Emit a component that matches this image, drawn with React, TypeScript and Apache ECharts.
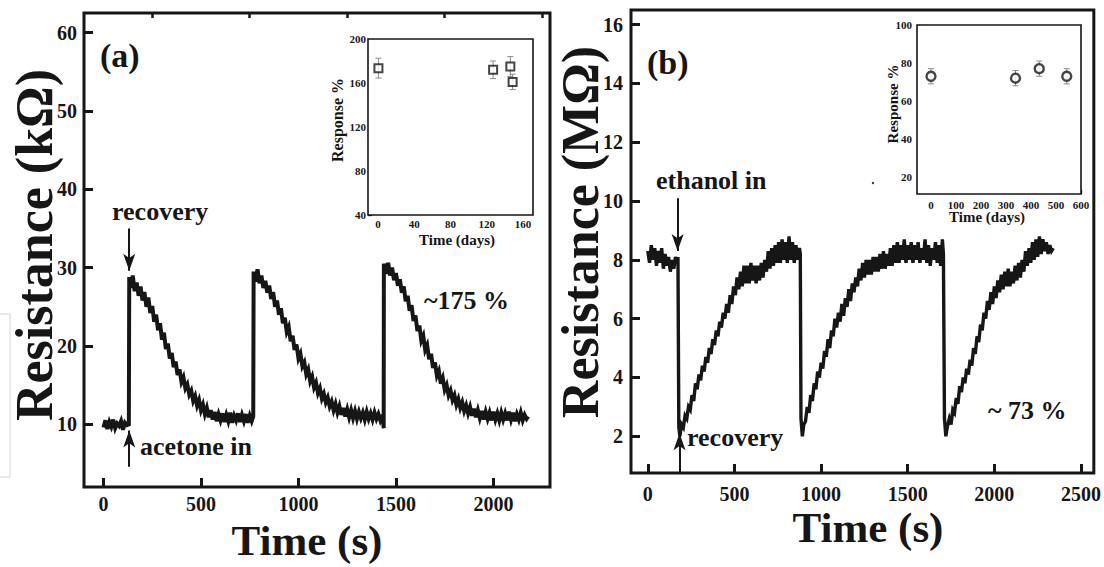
import React, { useEffect, useRef } from "react";
import * as echarts from "echarts";

// ---------- data ----------
const traceA: [number, number][] = [
  [0, 9.6], [10, 10.5], [20, 9.4], [30, 10.3], [40, 9.7], [50, 10.6], [60, 9.5], [70, 10.1], [80, 9.8], [90, 10.4], [100, 9.3], [110, 10.2], [120, 9.9], [130, 10.0],
  [132, 28.8], [140, 27.4], [150, 29.0], [160, 27.0], [170, 28.1], [180, 26.4], [190, 27.6], [200, 25.8], [210, 26.9], [220, 25.0], [230, 26.2], [240, 24.2], [250, 25.1], [260, 23.1], [270, 24.0], [280, 22.0], [290, 22.9], [300, 20.8], [310, 21.7], [320, 19.6], [330, 20.3], [340, 18.4], [350, 19.1], [360, 17.3], [370, 18.0], [380, 16.3], [390, 17.0], [400, 15.4], [410, 16.0], [420, 14.6], [430, 15.1], [440, 13.8], [450, 14.3], [460, 13.0], [470, 13.6], [480, 12.4], [490, 13.1], [500, 11.8], [510, 12.5], [520, 11.3], [530, 12.1], [540, 10.9], [550, 11.8], [560, 10.6], [570, 11.6], [580, 10.4], [590, 11.3], [600, 10.5], [610, 11.4], [620, 10.3], [630, 11.2], [640, 10.4], [650, 11.5], [660, 10.2], [670, 11.1], [680, 10.5], [690, 11.4], [700, 10.3], [710, 11.2], [720, 10.4], [730, 11.3], [740, 10.2], [750, 11.1], [760, 10.4], [768, 11.0],
  [770, 29.5], [780, 28.2], [790, 29.8], [800, 28.0], [810, 29.0], [820, 27.4], [830, 28.3], [840, 26.8], [850, 27.7], [860, 26.0], [870, 26.9], [880, 25.0], [890, 25.8], [900, 24.0], [910, 24.8], [920, 22.9], [930, 23.6], [940, 21.8], [950, 22.4], [960, 20.6], [970, 21.3], [980, 19.5], [990, 20.2], [1000, 18.4], [1010, 19.0], [1020, 17.4], [1030, 17.9], [1040, 16.4], [1050, 17.0], [1060, 15.5], [1070, 16.1], [1080, 14.7], [1090, 15.3], [1100, 14.0], [1110, 14.6], [1120, 13.3], [1130, 13.9], [1140, 12.8], [1150, 13.4], [1160, 12.3], [1170, 12.9], [1180, 11.8], [1190, 12.6], [1200, 11.5], [1210, 12.3], [1220, 11.2], [1230, 12.1], [1240, 11.0], [1250, 11.9], [1260, 10.9], [1270, 11.8], [1280, 10.8], [1290, 11.7], [1300, 10.7], [1310, 11.6], [1320, 10.8], [1330, 11.5], [1340, 10.6], [1350, 11.6], [1360, 10.7], [1370, 11.4], [1380, 10.6], [1390, 11.5], [1400, 10.7], [1410, 11.3], [1420, 10.5], [1432, 11.2],
  [1437, 9.5], [1438, 30.5], [1450, 29.2], [1460, 30.6], [1470, 29.0], [1480, 30.0], [1490, 28.4], [1500, 29.3], [1510, 27.7], [1520, 28.5], [1530, 26.8], [1540, 27.6], [1550, 25.7], [1560, 26.4], [1570, 24.5], [1580, 25.2], [1590, 23.2], [1600, 23.9], [1610, 21.9], [1620, 22.6], [1630, 20.7], [1640, 21.3], [1650, 19.5], [1660, 20.1], [1670, 18.3], [1680, 19.0], [1690, 17.2], [1700, 17.9], [1710, 16.2], [1720, 16.8], [1730, 15.2], [1740, 15.9], [1750, 14.4], [1760, 15.0], [1770, 13.7], [1780, 14.3], [1790, 13.1], [1800, 13.7], [1810, 12.5], [1820, 13.2], [1830, 12.1], [1840, 12.8], [1850, 11.7], [1860, 12.4], [1870, 11.4], [1880, 12.2], [1890, 11.1], [1900, 12.0], [1910, 10.9], [1920, 11.8], [1930, 10.8], [1940, 11.7], [1950, 10.6], [1960, 11.6], [1970, 10.7], [1980, 11.5], [1990, 10.5], [2000, 11.6], [2010, 10.6], [2020, 11.4], [2030, 10.5], [2040, 11.5], [2050, 10.6], [2060, 11.4], [2070, 10.5], [2080, 11.6], [2090, 10.6], [2100, 11.5], [2110, 10.4], [2120, 11.3], [2130, 10.6], [2140, 11.5], [2150, 10.5], [2160, 11.2], [2170, 10.7], [2178, 11.0],
];

const traceB: [number, number][] = [
  [0, 8.3], [10, 7.9], [20, 8.5], [30, 8.0], [40, 8.4], [50, 7.8], [60, 8.3], [70, 7.9], [80, 8.4], [90, 7.7], [100, 8.2], [110, 7.8], [120, 8.1], [130, 7.6], [140, 8.0], [150, 7.7], [160, 8.1], [170, 7.9], [174, 8.1],
  [179, 2.3], [185, 2.0], [195, 2.4], [205, 2.3], [215, 2.7], [225, 2.6], [235, 3.0], [245, 2.9], [255, 3.4], [265, 3.2], [275, 3.8], [285, 3.6], [295, 4.1], [305, 3.9], [315, 4.4], [325, 4.2], [335, 4.7], [345, 4.5], [355, 5.0], [365, 4.8], [375, 5.3], [385, 5.1], [395, 5.6], [405, 5.4], [415, 5.9], [425, 5.7], [435, 6.2], [445, 6.0], [455, 6.5], [465, 6.2], [475, 6.8], [485, 6.5], [495, 7.1], [505, 6.8], [515, 7.4], [525, 7.0], [535, 7.6], [545, 7.1], [555, 7.8], [565, 7.2], [575, 7.8], [585, 7.2], [595, 7.9], [605, 7.3], [615, 7.8], [625, 7.2], [635, 7.8], [645, 7.3], [655, 7.9], [665, 7.4], [675, 8.0], [685, 7.6], [695, 8.3], [705, 7.7], [715, 8.4], [725, 7.8], [735, 8.5], [745, 7.9], [755, 8.6], [765, 7.9], [775, 8.7], [785, 8.0], [795, 8.6], [805, 7.9], [815, 8.8], [825, 8.0], [835, 8.6], [845, 7.9], [855, 8.5], [865, 8.0], [875, 8.4], [880, 8.2],
  [884, 2.6], [892, 2.0], [900, 2.4], [910, 2.5], [920, 3.0], [930, 2.8], [940, 3.4], [950, 3.2], [960, 3.8], [970, 3.6], [980, 4.2], [990, 4.0], [1000, 4.5], [1010, 4.3], [1020, 4.9], [1030, 4.7], [1040, 5.3], [1050, 5.0], [1060, 5.6], [1070, 5.4], [1080, 6.0], [1090, 5.7], [1100, 6.2], [1110, 5.9], [1120, 6.5], [1130, 6.1], [1140, 6.7], [1150, 6.4], [1160, 7.0], [1170, 6.6], [1180, 7.2], [1190, 6.9], [1200, 7.4], [1210, 7.1], [1220, 7.7], [1230, 7.3], [1240, 7.9], [1250, 7.4], [1260, 8.0], [1270, 7.5], [1280, 8.0], [1290, 7.5], [1300, 8.1], [1310, 7.6], [1320, 8.1], [1330, 7.6], [1340, 8.2], [1350, 7.7], [1360, 8.3], [1370, 7.7], [1380, 8.2], [1390, 7.8], [1400, 8.4], [1410, 7.8], [1420, 8.5], [1430, 7.9], [1440, 8.6], [1450, 7.9], [1460, 8.5], [1470, 8.0], [1480, 8.7], [1490, 7.9], [1500, 8.5], [1510, 8.0], [1520, 8.6], [1530, 7.9], [1540, 8.5], [1550, 8.0], [1560, 8.6], [1570, 7.9], [1580, 8.4], [1590, 8.0], [1600, 8.7], [1610, 7.9], [1620, 8.5], [1630, 7.8], [1640, 8.4], [1650, 8.0], [1660, 8.6], [1670, 7.9], [1680, 8.5], [1690, 7.8], [1700, 8.7], [1706, 8.2],
  [1712, 2.6], [1720, 2.0], [1728, 2.3], [1740, 2.6], [1750, 2.4], [1760, 2.9], [1770, 2.8], [1780, 3.3], [1790, 3.1], [1800, 3.7], [1810, 3.5], [1820, 4.0], [1830, 3.8], [1840, 4.3], [1850, 4.1], [1860, 4.6], [1870, 4.4], [1880, 5.0], [1890, 4.8], [1900, 5.4], [1910, 5.2], [1920, 5.8], [1930, 5.6], [1940, 6.2], [1950, 6.0], [1960, 6.6], [1970, 6.3], [1980, 6.9], [1990, 6.5], [2000, 7.1], [2010, 6.7], [2020, 7.3], [2030, 6.9], [2040, 7.5], [2050, 7.0], [2060, 7.6], [2070, 7.1], [2080, 7.7], [2090, 7.1], [2100, 7.6], [2110, 7.2], [2120, 7.8], [2130, 7.3], [2140, 7.9], [2150, 7.4], [2160, 8.0], [2170, 7.6], [2180, 8.3], [2190, 7.8], [2200, 8.4], [2210, 7.9], [2220, 8.6], [2230, 8.0], [2240, 8.7], [2250, 8.1], [2260, 8.8], [2270, 8.2], [2280, 8.7], [2290, 8.3], [2300, 8.6], [2310, 8.2], [2320, 8.5], [2330, 8.3], [2340, 8.4],
];

// inset data
const insetADays = [0.5, 127, 146, 148.5];
const insetAResp = [173.5, 172, 175, 161];
const insetAErr = [9, 8, 9, 7];
const insetBDays = [0, 338, 433, 543];
const insetBResp = [73, 72, 77, 73];
const insetBErr = [4, 4, 4, 4];

// tick values
const xTicksA = [0, 500, 1000, 1500, 2000];
const xMinorA = [250, 750, 1250, 1750, 2250];
const yTicksA = [10, 20, 30, 40, 50, 60];
const xTicksB = [0, 500, 1000, 1500, 2000, 2500];
const yTicksB = [2, 4, 6, 8, 10, 12, 14, 16];
const insetAXTicks = [0, 40, 80, 120, 160];
const insetAYTicks = [40, 80, 120, 160, 200];
const insetBXTicks = [0, 100, 200, 300, 400, 500, 600];
const insetBYTicks = [20, 40, 60, 80, 100];

// arrows (data coords)
const arrowsA = [
  { x: 132, from: 35.0, to: 29.6 },
  { x: 132, from: 4.6, to: 9.2 },
];
const arrowsB = [
  { x: 172, from: 10.1, to: 8.3 },
  { x: 183, from: 0.75, to: 2.1 },
];

const FONT = '"Liberation Serif", "Times New Roman", serif';
const INK = "#161616";
const plain = (v: number) => String(v);

function mainAxis(grid: number, min: number, max: number, ticks: number[], margin: number) {
  return {
    type: "value",
    gridIndex: grid,
    min,
    max,
    axisLine: { show: false, onZero: false },
    splitLine: { show: false },
    axisTick: { show: true, inside: true, length: 9, lineStyle: { color: INK, width: 3 }, customValues: ticks },
    axisLabel: { customValues: ticks, formatter: plain, margin, color: INK, fontFamily: FONT, fontWeight: "bold", fontSize: 20 },
  };
}

function insetAxis(grid: number, min: number, max: number, ticks: number[], margin: number) {
  return {
    type: "value",
    gridIndex: grid,
    min,
    max,
    axisLine: { show: false, onZero: false },
    splitLine: { show: false },
    axisTick: { show: true, inside: true, length: 4, lineStyle: { color: INK, width: 1.3 }, customValues: ticks },
    axisLabel: { customValues: ticks, formatter: plain, margin, color: INK, fontFamily: FONT, fontWeight: "bold", fontSize: 11 },
  };
}

function errorBars(xi: number, yi: number, days: number[], resp: number[], err: number[]) {
  return {
    type: "custom",
    xAxisIndex: xi,
    yAxisIndex: yi,
    z: 3,
    data: days.map((d, i) => [d, resp[i] - err[i], resp[i] + err[i]]),
    encode: { x: 0, y: [1, 2] },
    renderItem: (params: any, api: any) => {
      const x = api.value(0);
      const p1 = api.coord([x, api.value(1)]);
      const p2 = api.coord([x, api.value(2)]);
      const w = 3;
      const st = { stroke: "#8a8a8a", lineWidth: 1 };
      return {
        type: "group",
        children: [
          { type: "line", shape: { x1: p1[0], y1: p1[1], x2: p2[0], y2: p2[1] }, style: st },
          { type: "line", shape: { x1: p1[0] - w, y1: p1[1], x2: p1[0] + w, y2: p1[1] }, style: st },
          { type: "line", shape: { x1: p2[0] - w, y1: p2[1], x2: p2[0] + w, y2: p2[1] }, style: st },
        ],
      };
    },
  };
}

function arrowLines(arrows: { x: number; from: number; to: number }[]) {
  return {
    silent: true,
    symbol: ["none", "arrow"],
    symbolSize: [9, 17],
    lineStyle: { color: INK, width: 2, type: "solid" },
    label: { show: false },
    emphasis: { disabled: true },
    data: arrows.map((a) => [{ coord: [a.x, a.from] }, { coord: [a.x, a.to] }]),
  };
}

function txt(text: string, x: number, y: number, size: number, align = "left", rotation = 0) {
  return {
    type: "text",
    x,
    y,
    rotation,
    z: 10,
    style: {
      text,
      fill: INK,
      font: `bold ${size}px ${FONT}`,
      textAlign: align,
      textVerticalAlign: "middle",
    },
  };
}

export default function App() {
  const ref = useRef<HTMLDivElement>(null);
  useEffect(() => {
    if (!ref.current) return;
    const chart = echarts.init(ref.current, undefined, { renderer: "svg" });
    const option: any = {
      animation: false,
      backgroundColor: "#ffffff",
      grid: [
        { left: 84, top: 13, width: 466, height: 474, show: true, borderColor: INK, borderWidth: 3, backgroundColor: "transparent" },
        { left: 631, top: 10, width: 466, height: 463, show: true, borderColor: INK, borderWidth: 3, backgroundColor: "transparent" },
        { left: 368, top: 39, width: 165, height: 176, show: true, borderColor: INK, borderWidth: 1.6, backgroundColor: "#ffffff", z: 1 },
        { left: 917, top: 25, width: 164, height: 169, show: true, borderColor: INK, borderWidth: 1.6, backgroundColor: "#ffffff", z: 1 },
      ],
      xAxis: [
        mainAxis(0, -100, 2290, xTicksA, 7),
        {
          type: "value",
          gridIndex: 0,
          min: -100,
          max: 2290,
          axisLine: { show: false, onZero: false },
          splitLine: { show: false },
          axisLabel: { show: false },
          axisTick: { show: true, inside: true, length: 5, lineStyle: { color: INK, width: 2.5 }, customValues: xMinorA },
        },
        mainAxis(1, -97, 2574, xTicksB, 11),
        insetAxis(2, -11, 171, insetAXTicks, 3),
        insetAxis(3, -56, 600, insetBXTicks, 5),
      ],
      yAxis: [
        mainAxis(0, 2, 62.5, yTicksA, 7),
        mainAxis(1, 0.75, 16.5, yTicksB, 8),
        insetAxis(2, 40, 200, insetAYTicks, 2),
        insetAxis(3, 11, 100, insetBYTicks, 5),
      ],
      series: [
        {
          type: "line",
          xAxisIndex: 0,
          yAxisIndex: 0,
          data: traceA,
          symbol: "none",
          showSymbol: false,
          lineStyle: { color: INK, width: 4, join: "miter" },
          markLine: arrowLines(arrowsA),
        },
        {
          type: "line",
          xAxisIndex: 2,
          yAxisIndex: 1,
          data: traceB,
          symbol: "none",
          showSymbol: false,
          lineStyle: { color: INK, width: 3.4, join: "miter" },
          markLine: arrowLines(arrowsB),
        },
        errorBars(3, 2, insetADays, insetAResp, insetAErr),
        {
          type: "scatter",
          xAxisIndex: 3,
          yAxisIndex: 2,
          z: 4,
          symbol: "rect",
          symbolSize: 8,
          itemStyle: { color: "#ffffff", borderColor: INK, borderWidth: 2 },
          data: insetADays.map((d, i) => [d, insetAResp[i]]),
        },
        errorBars(4, 3, insetBDays, insetBResp, insetBErr),
        {
          type: "scatter",
          xAxisIndex: 4,
          yAxisIndex: 3,
          z: 4,
          symbol: "circle",
          symbolSize: 9,
          itemStyle: { color: "#ffffff", borderColor: INK, borderWidth: 2.4 },
          data: insetBDays.map((d, i) => [d, insetBResp[i]]),
        },
      ],
      graphic: [
        { type: "rect", shape: { x: -2, y: 314, width: 12, height: 163 }, style: { fill: "none", stroke: "#dbe3ea", lineWidth: 1.5 } },
        { type: "circle", shape: { cx: 873, cy: 183, r: 1.2 }, style: { fill: "#333" } },
        txt("(a)", 100, 55, 34),
        txt("recovery", 112, 211, 26),
        txt("acetone in", 140, 446, 26),
        txt("~175 %", 424, 300, 26),
        txt("Resistance (kΩ)", 34, 245, 52, "center", Math.PI / 2),
        txt("Time (s)", 307, 540, 43, "center"),
        txt("(b)", 647, 62, 34),
        txt("ethanol in", 656, 180, 26),
        txt("recovery", 687, 437, 26),
        txt("~ 73 %", 988, 410, 26),
        txt("Resistance (MΩ)", 580, 232, 52, "center", Math.PI / 2),
        txt("Time (s)", 868, 527, 43, "center"),
        txt("Response %", 337, 120, 16, "center", Math.PI / 2),
        txt("Time (days)", 457, 240, 15, "center"),
        txt("Response %", 893, 104, 15, "center", Math.PI / 2),
        txt("Time (days)", 987, 217, 15, "center"),
      ],
    };
    chart.setOption(option);
    return () => chart.dispose();
  }, []);
  return <div ref={ref} style={{ position: "fixed", left: 0, top: 0, width: 1104, height: 567 }} />;
}
